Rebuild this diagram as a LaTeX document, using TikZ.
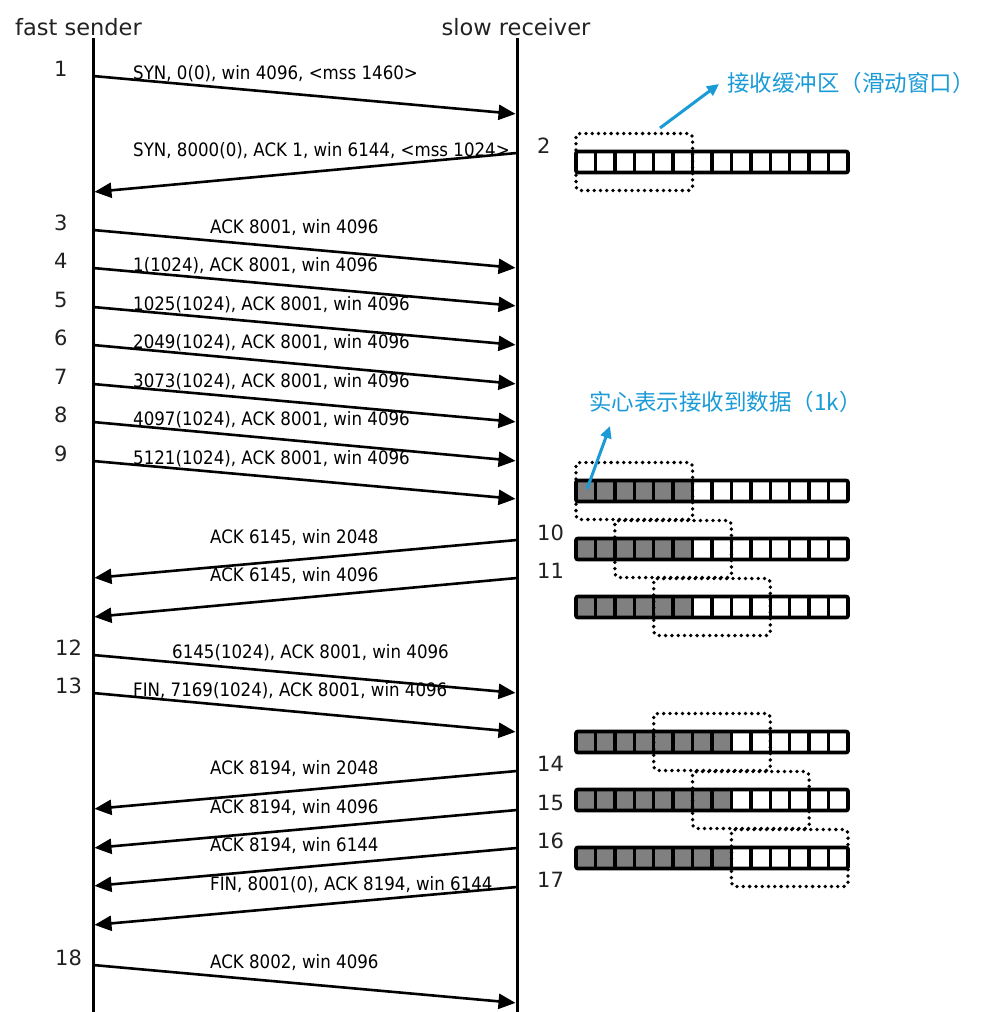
\documentclass[tikz,border=0pt]{standalone}
\usepackage{fontspec}
\setmainfont{DejaVu Sans}
\newfontfamily\lblfont[FakeStretch=0.9]{DejaVu Sans}
\newfontfamily\cjkfont{Noto Sans CJK SC}
\usetikzlibrary{arrows.meta}
\definecolor{annblue}{HTML}{1A9BD7}
\definecolor{cellgrey}{HTML}{808080}
\definecolor{numgrey}{HTML}{222222}
\tikzset{
 life/.style={line width=3pt},
 msg/.style={line width=2.6pt, -{Triangle[length=17pt,width=15pt]}, shorten >=1.5pt},
 lbl/.style={inner sep=0pt, anchor=base west, font=\lblfont\fontsize{18.5}{20}\selectfont},
 num/.style={inner sep=0pt, anchor=base west, text=numgrey, font=\fontsize{21}{24}\selectfont},
 hdr/.style={inner sep=0pt, anchor=base, text=numgrey, font=\fontsize{22.5}{26}\selectfont},
 winbox/.style={line width=3.8pt, dash pattern=on 0pt off 6.3pt, line cap=round, rounded corners=4pt},
 ann/.style={annblue, line width=3pt, -{Triangle[length=12pt,width=11pt]}},
 anntext/.style={annblue, inner sep=0pt, anchor=base west, font=\cjkfont\fontsize{22.5}{26}\selectfont},
}
\newcommand\drawbuf[3]{%
  \fill[cellgrey] (576,#1-10.5) rectangle ({576+#2*19.43},#1+10.5);
  \foreach \k in {1,...,13} \draw[line width=3.4pt] ({576+\k*19.43},#1-10.5) -- ({576+\k*19.43},#1+10.5);
  \draw[line width=3.8pt, rounded corners=2pt] (576,#1-10.5) rectangle (848,#1+10.5);
  \draw[winbox] ({576+#3*19.43},#1-28.5) rectangle ({576+(#3+6)*19.43},#1+28.5);
}
\begin{document}
\begin{tikzpicture}[x=1pt,y=-1pt]
\useasboundingbox[fill=white] (0,0) rectangle (1005,1012);
% headers
\node[hdr] (snd) at (78.5,35) {fast sender};
\node[hdr] (rcv) at (516,35) {slow receiver};
% lifelines
\coordinate (stop) at (93,38);
\coordinate (sbot) at (93,1012);
\coordinate (rtop) at (517,38);
\coordinate (rbot) at (517,1012);
\draw[life] (stop) -- (sbot);
\draw[life] (rtop) -- (rbot);
% sender -> receiver messages
\foreach \i/\a/\b in {1/76/114, 3/230/268, 4/268/306, 5/307/345, 6/345/384, 7/384/422, 8/422/461, 9/461/499, 12/655/693, 13/693/732, 18/965/1003}{
  \coordinate (s\i) at (93,\a);
  \coordinate (r\i) at (517,\b);
  \draw[msg] (s\i) -- (r\i);
}
% receiver -> sender messages
\foreach \i/\a/\b in {2/153/192, 10/540/578, 11/578/617, 14/771/809, 15/810/848, 16/848/886, 17/887/925}{
  \coordinate (r\i) at (517,\a);
  \coordinate (s\i) at (93,\b);
  \draw[msg] (r\i) -- (s\i);
}
% labels
\node[lbl] (l1) at (133,79) {SYN, 0(0), win 4096, <mss 1460>};
\node[lbl] (l2) at (133,156) {SYN, 8000(0), ACK 1, win 6144, <mss 1024>};
\node[lbl] (l3) at (210,233) {ACK 8001, win 4096};
\node[lbl] (l4) at (133,271) {1(1024), ACK 8001, win 4096};
\node[lbl] (l5) at (133,310) {1025(1024), ACK 8001, win 4096};
\node[lbl] (l6) at (133,348) {2049(1024), ACK 8001, win 4096};
\node[lbl] (l7) at (133,387) {3073(1024), ACK 8001, win 4096};
\node[lbl] (l8) at (133,425) {4097(1024), ACK 8001, win 4096};
\node[lbl] (l9) at (133,464) {5121(1024), ACK 8001, win 4096};
\node[lbl] (l10) at (210,543) {ACK 6145, win 2048};
\node[lbl] (l11) at (210,581) {ACK 6145, win 4096};
\node[lbl] (l12) at (172,658) {6145(1024), ACK 8001, win 4096};
\node[lbl] (l13) at (133,696) {FIN, 7169(1024), ACK 8001, win 4096};
\node[lbl] (l14) at (210,774) {ACK 8194, win 2048};
\node[lbl] (l15) at (210,813) {ACK 8194, win 4096};
\node[lbl] (l16) at (210,851) {ACK 8194, win 6144};
\node[lbl] (l17) at (210,890) {FIN, 8001(0), ACK 8194, win 6144};
\node[lbl] (l18) at (210,968) {ACK 8002, win 4096};
% step numbers, sender side
\foreach \i/\y in {1/76, 3/230, 4/268, 5/307, 6/345, 7/384, 8/422, 9/461}
  \node[num] (n\i) at (54,\y) {\i};
\foreach \i/\y in {12/655, 13/693, 18/965}
  \node[num] (n\i) at (55,\y) {\i};
% step numbers, receiver side
\foreach \i/\y in {2/153, 10/540, 11/578, 14/771, 15/810, 16/848, 17/887}
  \node[num] (n\i) at (537,\y) {\i};
% buffers
\drawbuf{162}{0}{0}
\drawbuf{491}{6}{0}
\drawbuf{549}{6}{2}
\drawbuf{607}{6}{4}
\drawbuf{742}{8}{4}
\drawbuf{800}{8}{6}
\drawbuf{858}{8}{8}
% annotations
\node[anntext] (t1) at (727,91) {接收缓冲区（滑动窗口）};
\node[anntext] (t2) at (589,410) {实心表示接收到数据（1k）};
\coordinate (a1s) at (660,128);
\coordinate (a1e) at (719,84);
\coordinate (a2s) at (587,489);
\coordinate (a2e) at (610,426);
\draw[ann] (a1s) -- (a1e);
\draw[ann] (a2s) -- (a2e);
\end{tikzpicture}
\end{document}
